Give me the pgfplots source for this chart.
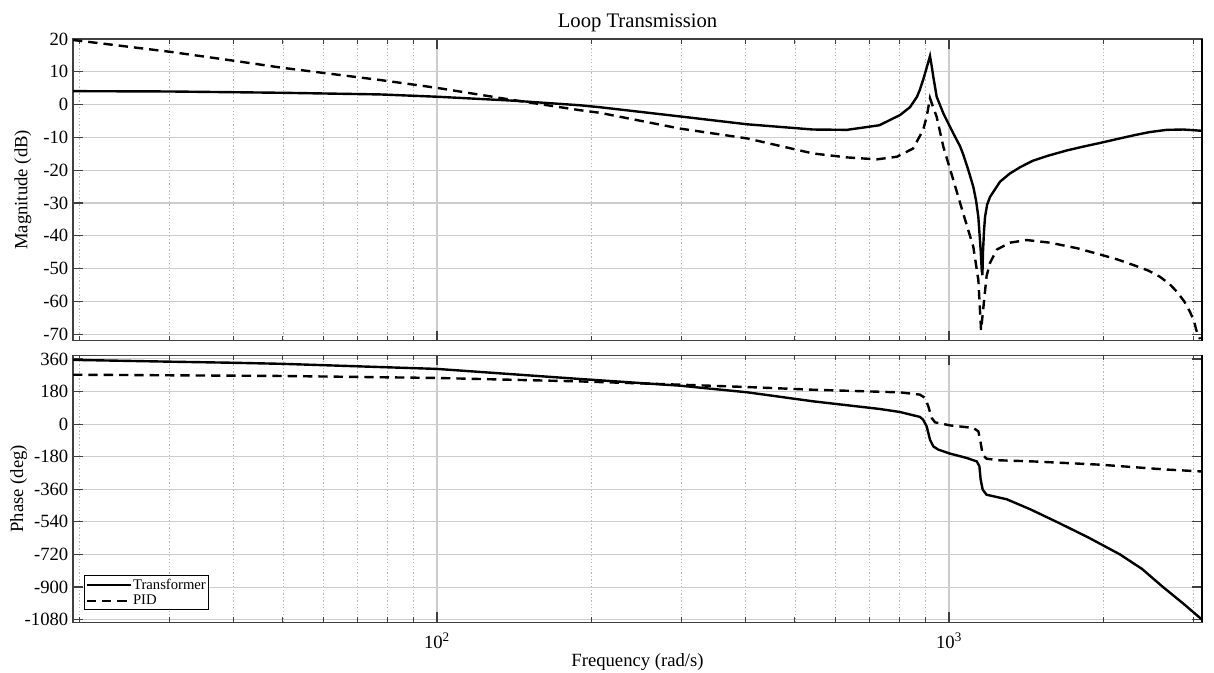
\documentclass[border=0pt]{standalone}
\usepackage{fontspec}
\setmainfont{Liberation Serif}
\usepackage{pgfplots}
\pgfplotsset{compat=1.18}
\begin{document}
\begin{tikzpicture}
\useasboundingbox (0,0) rectangle (910.5pt,-504pt);
% ---------------- Magnitude ----------------
\begin{axis}[name=mag,
  scale only axis, width=846.75pt, height=226.3pt,
  at={(54.75pt,-29.25pt)}, anchor=north west,
  xmode=log, xmin=19.46, xmax=3120,
  xtick={100,1000},
  minor xtick={20,30,40,50,60,70,80,90,200,300,400,500,600,700,800,900,2000,3000},
  grid=both,
  major grid style={line width=0.8pt, black!20},
  minor grid style={line width=0.5pt, black!28, dash pattern=on 1pt off 1.6pt},
  axis line style={line width=1pt, black!75},
  tick style={line width=0.9pt, black!75},
  major tick length=7.5pt, minor tick length=3.75pt,
  tick align=inside,
  tick label style={font=\fontsize{14}{16}\selectfont},
  label style={font=\fontsize{14}{16}\selectfont},
  ymin=-72, ymax=20,
  ytick={-70,-60,-50,-40,-30,-20,-10,0,10,20},
  yticklabels={-70,-60,-50,-40,-30,-20,-10,0,10,20},
  xticklabels={},
  ylabel={Magnitude (dB)},
  ylabel style={at={(axis description cs:-0.0326,0.5)}, anchor=south},
  title={Loop Transmission},
  title style={at={(axis description cs:0.5,1)}, anchor=base, yshift=3pt,
    font=\fontsize{15.5}{17}\selectfont},
]
\addplot[line width=1.8pt, black] coordinates {
(19.46,4.1)(30,4.0)(50,3.6)(77.4,3.1)(100,2.4)(140.7,1.2)(190,-0.2)(208,-0.8)
(298,-3.6)(403,-6.0)(542.6,-7.6)(632,-7.7)(731,-6.3)(802,-3.2)(839,-0.8)
(866,2.4)(877,4.5)(889.9,7.5)(897.7,9.5)(911.2,13.0)(918,14.8)(925,11.8)
(931.8,8.5)(946,2.4)(975,-2.7)(1019.6,-8.8)(1051,-12.7)(1066,-15.2)
(1090,-19.8)(1115.6,-25.1)(1130,-29.5)(1141,-34.3)(1153,-44.4)(1158.6,-50.5)
(1162,-52)(1165,-45)(1171,-38)(1176,-34.2)(1187,-30.5)(1203,-28.1)
(1258,-23.5)(1315,-21.0)(1380,-19.0)(1459,-17.1)(1560,-15.6)(1697,-14.0)
(1830,-12.8)(1972,-11.7)(2130,-10.5)(2290,-9.4)(2460,-8.4)(2661,-7.7)
(2867,-7.6)(3000,-7.8)(3120,-8.0)
};
\addplot[line width=1.8pt, black, dash pattern=on 7pt off 4.5pt] coordinates {
(19.46,19.7)(30.1,16.1)(40,13.4)(50,11.2)(77.4,7.5)(100,5.1)(140.7,1.4)
(190,-1.7)(208,-2.5)(298,-7.3)(403,-10.3)(542.6,-14.9)(632,-16.1)(723,-16.7)
(791,-15.9)(850.6,-13.4)(877,-9.6)(889.9,-7.8)(904.4,-3.7)(918,2.0)(931.8,-1.0)
(946,-3.7)(975,-12.9)(1019.6,-23.0)(1066,-33.2)(1115.6,-43.4)(1141,-53.5)
(1155,-68.8)(1184,-52.3)(1203,-48.2)(1240,-44.2)(1315.5,-42.1)(1418,-41.3)
(1575,-42.1)(1780,-43.8)(1972,-45.7)(2130,-47.2)(2290,-48.9)(2450,-50.6)
(2582,-52.5)(2700,-54.8)(2788,-57.1)(2880,-60.0)(2956,-63.2)(3010,-66.0)
(3041,-68.8)(3092,-71.5)
};
\end{axis}
% ---------------- Phase ----------------
\begin{axis}[name=pha,
  scale only axis, width=846.75pt, height=200.25pt,
  at={(54.75pt,-266.5pt)}, anchor=north west,
  xmode=log, xmin=19.46, xmax=3120,
  xtick={100,1000},
  minor xtick={20,30,40,50,60,70,80,90,200,300,400,500,600,700,800,900,2000,3000},
  grid=both,
  major grid style={line width=0.8pt, black!20},
  minor grid style={line width=0.5pt, black!28, dash pattern=on 1pt off 1.6pt},
  axis line style={line width=1pt, black!75},
  tick style={line width=0.9pt, black!75},
  major tick length=7.5pt, minor tick length=3.75pt,
  tick align=inside,
  tick label style={font=\fontsize{14}{16}\selectfont},
  label style={font=\fontsize{14}{16}\selectfont},
  ymin=-1095, ymax=380,
  ytick={-1080,-900,-720,-540,-360,-180,0,180,360},
  yticklabels={-1080,-900,-720,-540,-360,-180,0,180,360},
  xticklabels={10\textsuperscript{2},10\textsuperscript{3}},
  xticklabel style={anchor=base, yshift=-19.3pt},
  xlabel={Frequency (rad/s)},
  xlabel style={at={(axis description cs:0.5,0)}, anchor=base, yshift=-32.8pt},
  ylabel={Phase (deg)},
  ylabel style={at={(axis description cs:-0.0364,0.5)}, anchor=south},
  legend style={at={(axis description cs:0,0)}, anchor=south west,
    xshift=8.25pt, yshift=9pt, draw=black, line width=0.8pt,
    font=\fontsize{11}{12}\selectfont, inner xsep=1pt, inner ysep=1.5pt,
    row sep=0.5pt, nodes={inner sep=1pt}, cells={anchor=west}},
  legend image code/.code={\draw[#1, line width=1.4pt] (0pt,0pt) -- (33pt,0pt);},
]
\addplot[line width=1.8pt, black] coordinates {
(19.46,355)(30.1,345)(40,339)(50,333)(100,305)(190,249.5)(208,242)(298,212.5)
(403,176)(542.6,126)(731,84)(802,67)(877,40)(889.9,25)(904.4,-12)(918,-86)
(931.8,-123)(953,-141)(1005,-163)(1083,-187)(1133,-206)(1146.5,-233)
(1153,-307)(1163.5,-362)(1184,-390)(1296,-415)(1440,-470)(1623,-540)
(1868,-625)(2158,-720)(2382,-800)(2618,-900)(2864,-990)(3120,-1080)
};
\addlegendentry{Transformer}
\addplot[line width=1.8pt, black, dash pattern=on 7pt off 4.5pt] coordinates {
(19.46,273)(50,266)(100,255)(190,236)(298,218)(403,205)(542.6,190)(802,175.5)
(877,163)(897.7,145)(911.2,98)(925.1,34)(939,10)(1005,-7)(1115.6,-21)
(1141,-40)(1153,-104)(1163.5,-169)(1184,-191)(1258,-200)(1459,-206)
(1972,-224)(2661,-251)(3092,-261)(3120,-262)
};
\addlegendentry{PID}
\end{axis}
\draw[line width=2.2pt, black] (mag.north east) -- (mag.south east);
\draw[line width=2.2pt, black] (pha.north east) -- (pha.south east);
\end{tikzpicture}
\end{document}
